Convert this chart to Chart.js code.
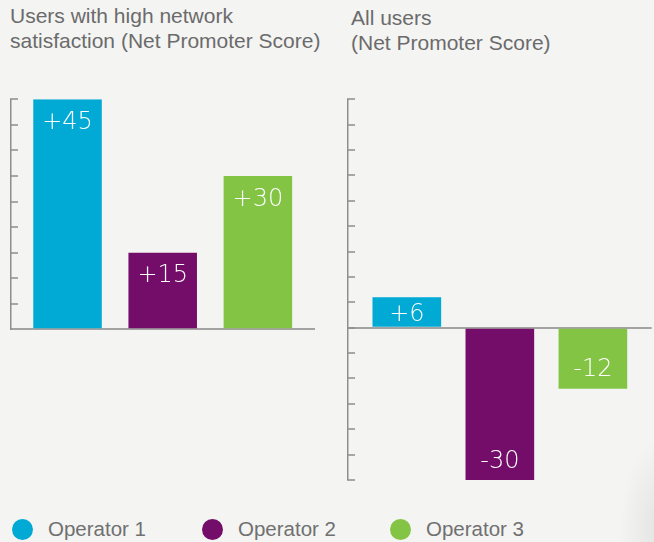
<!DOCTYPE html>
<html>
<head>
<meta charset="utf-8">
<script src="https://cdn.jsdelivr.net/npm/chart.js@4/dist/chart.umd.min.js"></script>
<style>
  html, body { margin: 0; padding: 0; }
  body {
    width: 654px; height: 542px; position: relative; overflow: hidden;
    background: #f4f4f3;
    background-image: radial-gradient(ellipse 40px 90px at 660px 530px, rgba(210,210,210,0.5), rgba(244,244,243,0) 100%);
    font-family: "Liberation Sans", Arial, sans-serif;
  }
  .title { position: absolute; color: #6b6b6b; font-size: 21px; line-height: 25px; white-space: nowrap; }
  .cv { position: absolute; }
  .legend-item { position: absolute; top: 518px; height: 22px; display: flex; align-items: center; color: #707070; font-size: 20.5px; white-space: nowrap; }
  .legend-dot { width: 21px; height: 21px; border-radius: 50%; margin-right: 15px; }
</style>
</head>
<body>
<div class="title" id="t1" style="left:10px; top:3px;"></div>
<div class="title" id="t2" style="left:351px; top:5px;"></div>
<div class="cv" style="left:0; top:80px; width:330px; height:260px;"><canvas id="c1" width="330" height="260"></canvas></div>
<div class="cv" style="left:330px; top:80px; width:324px; height:420px;"><canvas id="c2" width="324" height="420"></canvas></div>
<div id="legend"></div>
<script>
// ---- data ----
const operators = ['Operator 1', 'Operator 2', 'Operator 3'];
const highSatisfactionNPS = [45, 15, 30];
const allUsersNPS = [6, -30, -12];
const leftTitle = ['Users with high network', 'satisfaction (Net Promoter Score)'];
const rightTitle = ['All users', '(Net Promoter Score)'];
const leftRange = [0, 45];
const rightRange = [-30, 45];
const tickStep = 5;

// ---- styles ----
const colors = ['#00aad4', '#740c69', '#83c444'];
const axisGray = '#8e8e8e';
const baseGray = '#a3a3a3';

document.getElementById('t1').innerHTML = leftTitle.join('<br>');
document.getElementById('t2').innerHTML = rightTitle.join('<br>');

const legendLefts = [12, 202, 390];
const legendEl = document.getElementById('legend');
operators.forEach((name, i) => {
  const d = document.createElement('div');
  d.className = 'legend-item';
  d.style.left = legendLefts[i] + 'px';
  d.innerHTML = '<span class="legend-dot" style="background:' + colors[i] + '"></span><span>' + name + '</span>';
  legendEl.appendChild(d);
});

const labelPlugin = {
  id: 'barLabels',
  afterDatasetsDraw(chart) {
    const ctx = chart.ctx;
    const fs = 24;
    ctx.save();
    ctx.font = '200 ' + fs + 'px "DejaVu Sans"';
    ctx.fillStyle = '#ffffff';
    ctx.textAlign = 'center';
    ctx.textBaseline = 'alphabetic';
    chart.data.datasets.forEach((ds, di) => {
      const meta = chart.getDatasetMeta(di);
      meta.data.forEach((el, j) => {
        const v = ds.data[j];
        const h = Math.abs(el.base - el.y);
        const off = Math.min(21, h / 2);
        const cy = v >= 0 ? el.y + off : el.y - off;
        const txt = (v > 0 ? '+' : '') + v;
        ctx.fillText(txt, el.x, cy + fs * 0.36);
      });
    });
    ctx.restore();
  }
};

function makeChart(id, values, range, pad, catPct, barPct, zeroLine) {
  return new Chart(document.getElementById(id), {
    type: 'bar',
    data: {
      labels: [''],
      datasets: operators.map((name, i) => ({
        label: name,
        data: [values[i]],
        backgroundColor: colors[i],
        borderWidth: 0,
        categoryPercentage: catPct,
        barPercentage: barPct
      }))
    },
    options: {
      responsive: false,
      animation: false,
      events: [],
      layout: { padding: pad },
      plugins: { legend: { display: false }, tooltip: { enabled: false } },
      scales: {
        x: {
          ticks: { display: false },
          grid: { display: true, drawOnChartArea: false, drawTicks: false },
          border: { display: !zeroLine, color: baseGray, width: 2 },
          afterFit(s) { s.height = 0; }
        },
        y: {
          min: range[0], max: range[1],
          ticks: { display: false, stepSize: tickStep },
          grid: {
            drawOnChartArea: zeroLine,
            drawTicks: true,
            tickLength: -7,
            tickColor: axisGray,
            tickWidth: 1.5,
            color: c => (c.tick && c.tick.value === 0) ? baseGray : 'rgba(0,0,0,0)',
            lineWidth: c => (c.tick && c.tick.value === 0) ? 2 : 0
          },
          border: { display: true, color: axisGray, width: 1.5 },
          afterFit(s) { s.width = 0; }
        }
      }
    },
    plugins: [labelPlugin]
  });
}

makeChart('c1', highSatisfactionNPS, leftRange, { left: 11, right: 15.6, top: 19.3, bottom: 10.7 }, 0.941, 0.72, false);
makeChart('c2', allUsersNPS, rightRange, { left: 18, right: 2.3, top: 19.3, bottom: 20 }, 0.919, 0.738, true);
</script>
</body>
</html>
